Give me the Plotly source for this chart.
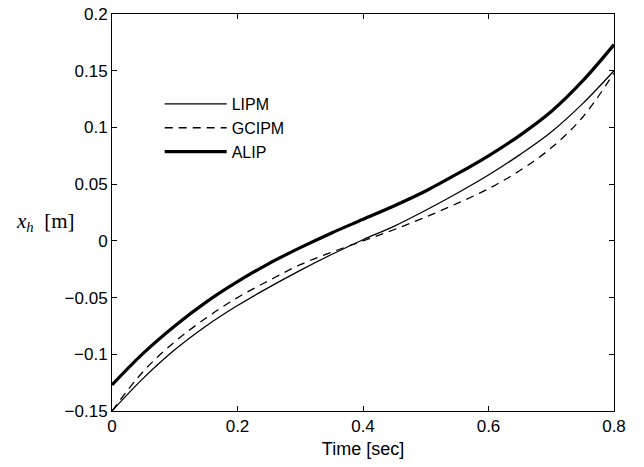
import plotly.graph_objects as go

time_s = [0.0, 0.05, 0.1, 0.15, 0.2, 0.25, 0.3, 0.35, 0.4, 0.45, 0.5, 0.55, 0.6, 0.65, 0.7, 0.75, 0.8]
lipm = [-0.150, -0.121, -0.096, -0.075, -0.057, -0.041, -0.026, -0.012, 0.001, 0.013, 0.027, 0.042, 0.058, 0.076, 0.096, 0.121, 0.150]
gcipm = [-0.150, -0.115, -0.089, -0.068, -0.050, -0.035, -0.021, -0.010, 0.000, 0.010, 0.021, 0.033, 0.046, 0.062, 0.082, 0.109, 0.148]
alip = [-0.127, -0.099, -0.075, -0.054, -0.036, -0.020, -0.006, 0.007, 0.019, 0.031, 0.044, 0.059, 0.075, 0.093, 0.114, 0.141, 0.173]

x_ticks = [0, 0.2, 0.4, 0.6, 0.8]
x_tick_labels = ["0", "0.2", "0.4", "0.6", "0.8"]
y_ticks = [-0.15, -0.1, -0.05, 0, 0.05, 0.1, 0.15, 0.2]
y_tick_labels = ["\u22120.15", "\u22120.1", "\u22120.05", "0", "0.05", "0.1", "0.15", "0.2"]

font_main = "Liberation Sans, Arial, Helvetica, sans-serif"

fig = go.Figure()
fig.add_trace(go.Scatter(x=time_s, y=lipm, mode="lines", name="LIPM",
                         line=dict(color="black", width=1.3, shape="spline")))
fig.add_trace(go.Scatter(x=time_s, y=gcipm, mode="lines", name="GCIPM",
                         line=dict(color="black", width=1.3, dash="8px,6px", shape="spline")))
fig.add_trace(go.Scatter(x=time_s, y=alip, mode="lines", name="ALIP",
                         line=dict(color="black", width=3.2, shape="spline")))

axis_common = dict(showline=True, linecolor="black", linewidth=1, mirror="ticks",
                   ticks="inside", ticklen=5, tickcolor="black", showgrid=False,
                   zeroline=False, ticklabeloverflow="allow", automargin=False,
                   tickfont=dict(family=font_main, size=17, color="black"))

fig.update_xaxes(range=[0, 0.8], tickvals=x_ticks, ticktext=x_tick_labels,
                 title=dict(text="Time [sec]", font=dict(family=font_main, size=18, color="black"), standoff=6),
                 **axis_common)
fig.update_yaxes(range=[-0.15, 0.2], tickvals=y_ticks, ticktext=y_tick_labels, **axis_common)

fig.add_annotation(text="<i>x</i><sub><i>h</i></sub>  [m]", xref="paper", yref="paper",
                   x=-0.07, y=0.475, xanchor="right", yanchor="middle", showarrow=False,
                   font=dict(family="Liberation Serif, DejaVu Serif, serif", size=21, color="black"))

fig.update_layout(
    width=644, height=467,
    margin=dict(l=104, r=38, t=6, b=64),
    paper_bgcolor="white", plot_bgcolor="white",
    showlegend=True,
    legend=dict(x=0.095, y=0.816, xanchor="left", yanchor="top", bgcolor="rgba(0,0,0,0)",
                borderwidth=0, font=dict(family=font_main, size=16, color="black"),
                itemwidth=62, tracegroupgap=0),
)

fig.write_html("out.html")
